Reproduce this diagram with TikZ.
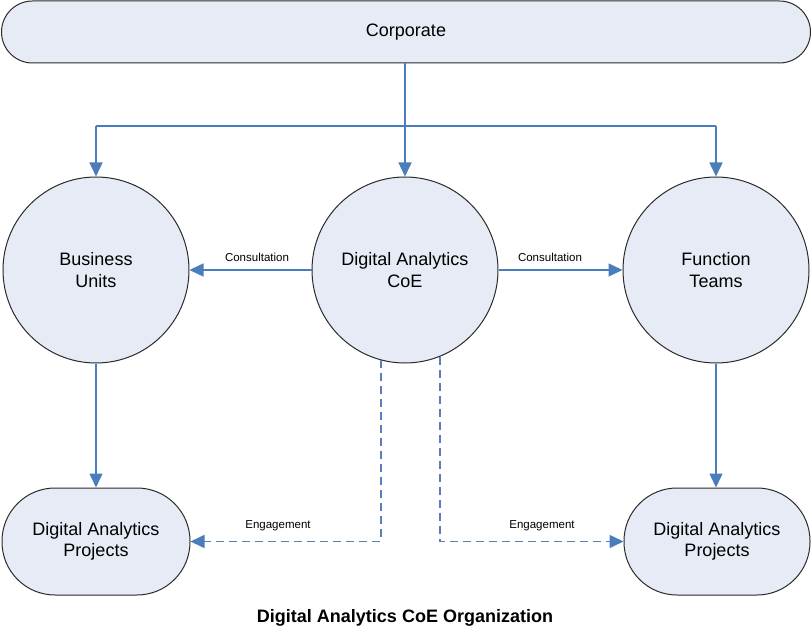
\documentclass[tikz,border=0pt]{standalone}
\usepackage{fontspec}
\setmainfont{Liberation Sans}
\usetikzlibrary{arrows.meta}
\definecolor{fillblue}{HTML}{E6EBF5}
\definecolor{linkblue}{HTML}{4A7EBB}
\definecolor{dashblue}{HTML}{5A7FBA}
\definecolor{edge}{HTML}{2B2B2B}
\begin{document}
\begin{tikzpicture}[x=1pt,y=-1pt,
  shapebox/.style={draw=edge,line width=1pt,fill=fillblue,inner sep=0pt,align=center,font=\fontsize{18}{21.5}\selectfont},
  roundbox/.style={shapebox,rectangle},
  circ/.style={shapebox,circle,minimum size=186pt},
  link/.style={draw=linkblue,line width=1.5pt,-{Triangle[length=14pt,width=13pt]}},
  plainlink/.style={draw=linkblue,line width=1.5pt},
  dashlink/.style={draw=dashblue,line width=1.6pt,dash pattern=on 8pt off 5pt,-{Triangle[length=14pt,width=13pt,color=linkblue]}},
  smalllabel/.style={font=\fontsize{11.5}{13}\selectfont,inner sep=0pt}
]
\useasboundingbox (0,0) rectangle (812,631);
\node[roundbox,minimum width=809pt,minimum height=62pt,rounded corners=31pt] (corp) at (406,32) {Corporate};
\node[circ] (bu) at (96,270) {Business\\Units};
\node[circ] (coe) at (405,270) {Digital Analytics\\CoE};
\node[circ] (ft) at (716,270) {Function\\Teams};
\node[roundbox,minimum width=188pt,minimum height=107pt,rounded corners=53pt] (dpl) at (96,541.5) {Digital Analytics\\Projects};
\node[roundbox,minimum width=186pt,minimum height=107pt,rounded corners=53pt] (dpr) at (717,541.5) {Digital Analytics\\Projects};
\coordinate (jl) at (96,126);
\coordinate (jr) at (716,126);
\draw[link] (coe.north |- corp.south) -- (coe.north);
\draw[plainlink] (jl) -- (jr);
\draw[link] (jl) -- (bu.north);
\draw[link] (jr) -- (ft.north);
\draw[link] (coe.west) -- (bu.east);
\draw[link] (coe.east) -- (ft.west);
\draw[link] (bu.south) -- (dpl.north);
\draw[link] (ft.south) -- (dpr.north -| ft.south);
\draw[dashlink] (coe.-105) |- (dpl.east);
\draw[dashlink] (coe.-68) |- (dpr.west);
\node[smalllabel] (c1) at (257,257) {Consultation};
\node[smalllabel] (c2) at (550,257) {Consultation};
\node[smalllabel] (e1) at (278,526) {Engagement};
\node[smalllabel] (e2) at (542,526) {Engagement};
\node[font=\bfseries\fontsize{18}{21}\selectfont,inner sep=0pt] (title) at (405,618) {Digital Analytics CoE Organization};
\end{tikzpicture}
\end{document}
